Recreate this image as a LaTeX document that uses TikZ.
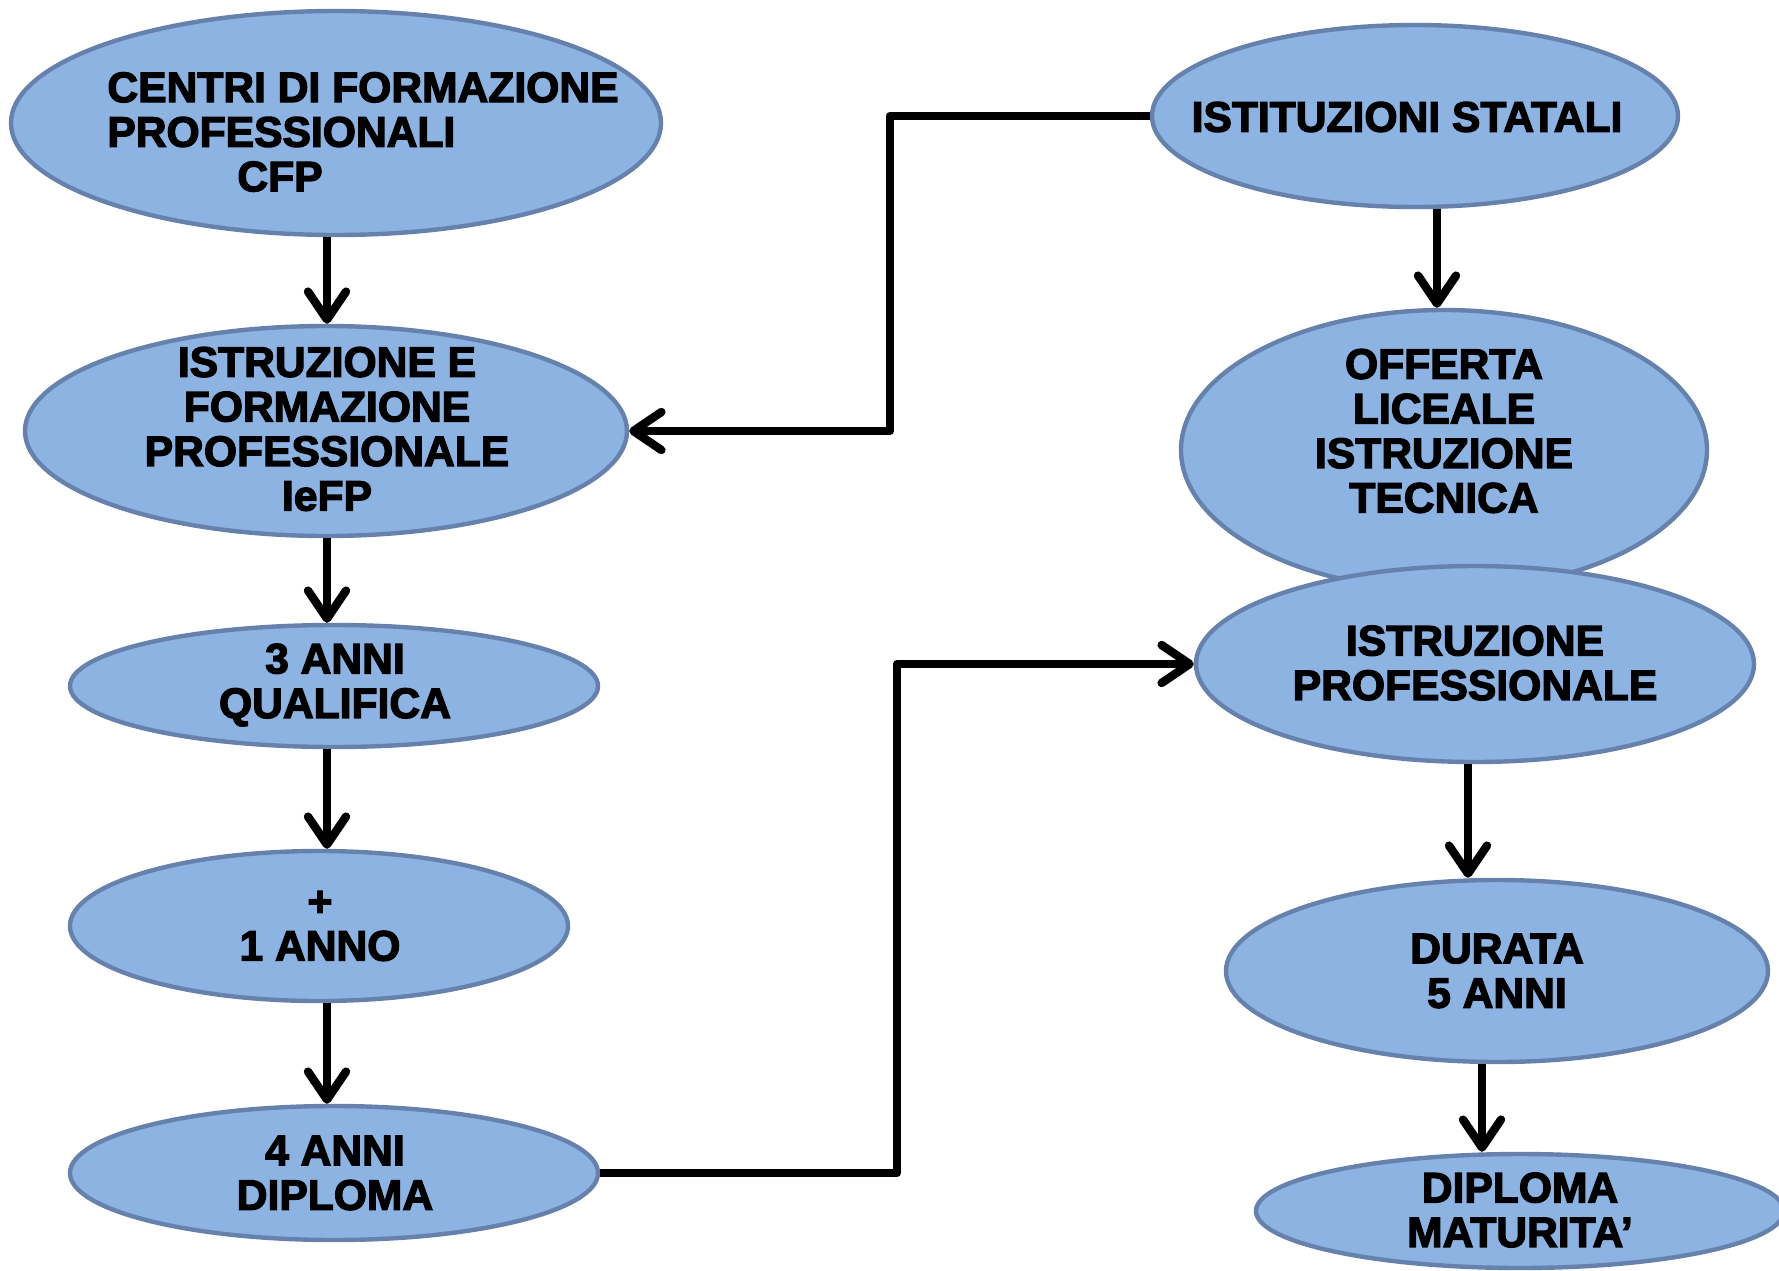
\documentclass[tikz,border=0pt]{standalone}
\usepackage{fontspec}
\setmainfont{Liberation Sans}[BoldFeatures={FakeBold=3}]
\usetikzlibrary{arrows.meta,shapes.geometric}
\definecolor{ellfill}{HTML}{8DB3E2}
\definecolor{elldraw}{HTML}{6682AC}
\begin{document}
\begin{tikzpicture}[x=0.5pt,y=-0.5pt,
  ell/.style={ellipse, fill=ellfill, draw=elldraw, line width=2.2pt, inner sep=0pt},
  txt/.style={align=center, font=\bfseries\fontsize{21.3}{22.3}\selectfont, inner sep=0pt},
  conn/.style={line width=4.2pt, line join=round, -{Straight Barb[length=14pt,width=19pt,round]}}]
\useasboundingbox (0,0) rectangle (1779,1270);
% ellipses
\node[ell, minimum width=325pt, minimum height=112pt] (cfp) at (336,123) {};
\node[ell, minimum width=301pt, minimum height=105pt] (iefp) at (326,431) {};
\node[ell, minimum width=264pt, minimum height=61pt] (qual) at (334,686) {};
\node[ell, minimum width=249pt, minimum height=75pt] (anno) at (319,926) {};
\node[ell, minimum width=264pt, minimum height=67pt] (dipl) at (334,1173) {};
\node[ell, minimum width=263pt, minimum height=91pt] (stat) at (1415,116) {};
\node[ell, minimum width=263pt, minimum height=140pt] (off) at (1444,450) {};
\node[ell, minimum width=279pt, minimum height=98pt] (iprof) at (1475,664) {};
\node[ell, minimum width=271pt, minimum height=91pt] (dur) at (1497,971) {};
\node[ell, minimum width=264pt, minimum height=57pt] (mat) at (1520,1211) {};
% texts
\node[txt, align=left, anchor=west] (cfpt) at (107,132) {CENTRI DI FORMAZIONE\\PROFESSIONALI\\\hspace*{65pt}CFP};
\node[txt] (iefpt) at (327,429) {ISTRUZIONE E\\FORMAZIONE\\PROFESSIONALE\\IeFP};
\node[txt] (qualt) at (335,685) {3 ANNI\\QUALIFICA};
\node[txt] (annot) at (320,926) {+\\1 ANNO};
\node[txt] (diplt) at (335,1173) {4 ANNI\\DIPLOMA};
\node[txt] (statt) at (1407,117) {ISTITUZIONI STATALI};
\node[txt] (offt) at (1444,431) {OFFERTA\\LICEALE\\ISTRUZIONE\\TECNICA};
\node[txt] (iproft) at (1475,663) {ISTRUZIONE\\PROFESSIONALE};
\node[txt] (durt) at (1497,971) {DURATA\\5 ANNI};
\node[txt] (matt) at (1520,1210) {DIPLOMA\\MATURITA’};
% connectors
\coordinate (lx) at (327,0);
\coordinate (rx1) at (1437,0);
\coordinate (rx2) at (1468,0);
\coordinate (rx3) at (1482,0);
\coordinate (k1) at (890,0);
\coordinate (k2) at (897,0);
\draw[conn] (cfp.south -| lx) -- (iefp.north -| lx);
\draw[conn] (iefp.south -| lx) -- (qual.north -| lx);
\draw[conn] (qual.south -| lx) -- (anno.north -| lx);
\draw[conn] (anno.south -| lx) -- (dipl.north -| lx);
\draw[conn] (stat.south -| rx1) -- (off.north -| rx1);
\draw[conn] (iprof.south -| rx2) -- (dur.north -| rx2);
\draw[conn] (dur.south -| rx3) -- (mat.north -| rx3);
\draw[conn] (stat.west) -- (stat.west -| k1) |- (iefp.east);
\draw[conn] (dipl.east) -- (dipl.east -| k2) |- (iprof.west);
\end{tikzpicture}
\end{document}
